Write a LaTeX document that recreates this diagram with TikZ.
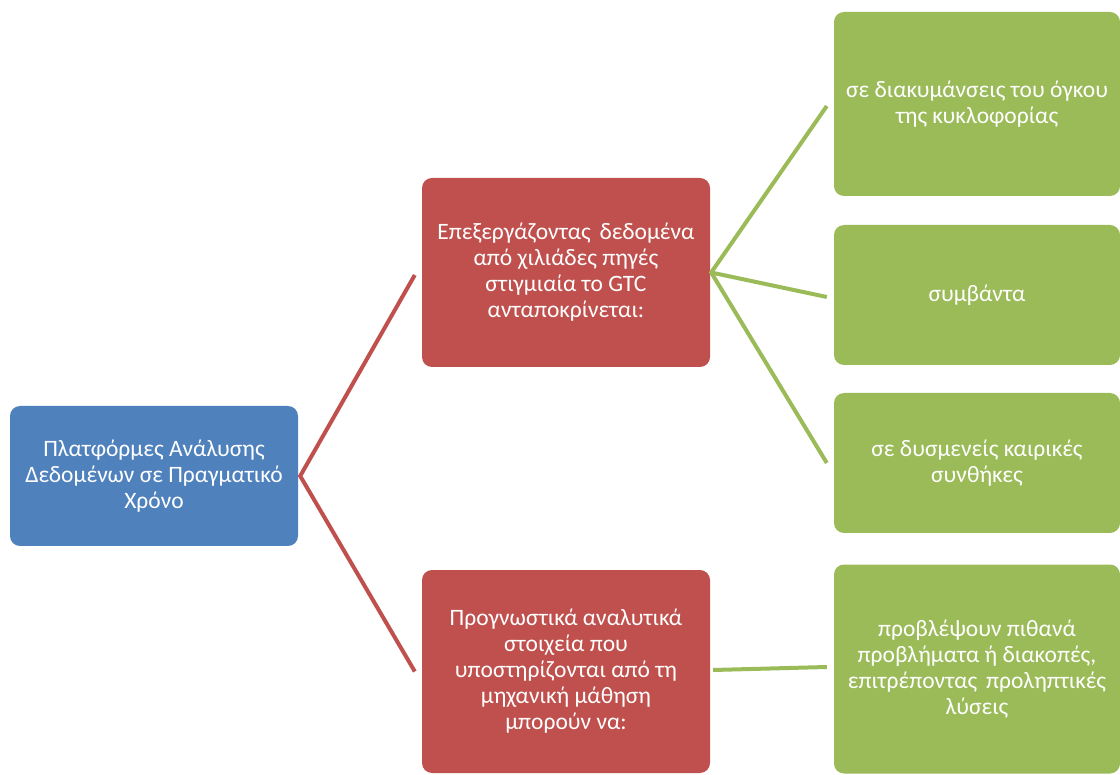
\documentclass[tikz,border=0pt]{standalone}
\usepackage{fontspec}
\setmainfont{Carlito}
\definecolor{cblue}{HTML}{4F81BD}
\definecolor{cred}{HTML}{C0504D}
\definecolor{cgreen}{HTML}{9BBB59}
\begin{document}
\begin{tikzpicture}[x=1pt,y=-1pt,
  box/.style={rectangle, rounded corners=10pt, text=white, align=center,
    font=\fontsize{23.5}{26}\selectfont, inner sep=0pt},
  bluebox/.style={box, fill=cblue},
  redbox/.style={box, fill=cred},
  greenbox/.style={box, fill=cgreen},
  redline/.style={draw=cred, line width=4pt},
  greenline/.style={draw=cgreen, line width=4pt}]
\useasboundingbox (0,0) rectangle (1120,775);
\node[bluebox, minimum width=288pt, minimum height=140pt] (root) at (154,476)
  {Πλατφόρμες Ανάλυσης\\Δεδομένων σε Πραγματικό\\Χρόνο};
\node[redbox, minimum width=288pt, minimum height=189pt] (r1) at (566,272.5)
  {Επεξεργάζοντας\hspace{0.15em} δεδομένα\\από χιλιάδες πηγές\\στιγμιαία το GTC\\ανταποκρίνεται:};
\node[redbox, minimum width=288pt, minimum height=203pt] (r2) at (566,671.5)
  {Προγνωστικά αναλυτικά\\στοιχεία που\\υποστηρίζονται από τη\\μηχανική μάθηση\\μπορούν να:};
\node[greenbox, minimum width=286pt, minimum height=184pt] (g1) at (977,104)
  {σε διακυμάνσεις του όγκου\\της κυκλοφορίας};
\node[greenbox, minimum width=286pt, minimum height=140pt] (g2) at (977,295)
  {συμβάντα};
\node[greenbox, minimum width=286pt, minimum height=140pt] (g3) at (977,463)
  {σε δυσμενείς καιρικές\\συνθήκες};
\node[greenbox, minimum width=286pt, minimum height=209pt] (g4) at (977,669)
  {προβλέψουν πιθανά\\προβλήματα ή διακοπές,\\επιτρέποντας\hspace{0.15em} προληπτικές\\λύσεις};
\coordinate (rs) at ([xshift=2pt]root.east);
\coordinate (r1e) at ([xshift=-7pt,yshift=-2.5pt]r1.west);
\coordinate (r2e) at ([xshift=-7pt,yshift=0pt]r2.west);
\coordinate (g1e) at ([xshift=-7pt,yshift=-2pt]g1.west);
\coordinate (g2e) at ([xshift=-7pt,yshift=-2pt]g2.west);
\coordinate (g3e) at ([xshift=-7pt]g3.west);
\coordinate (g4e) at ([xshift=-7pt,yshift=2pt]g4.west);
\coordinate (r1s) at ([xshift=1pt]r1.east);
\coordinate (r2s) at ([xshift=3pt,yshift=1.5pt]r2.east);
\draw[redline] (r1e) -- (rs) -- (r2e);
\draw[greenline] (g1e) -- (r1s) -- (g3e);
\draw[greenline] (r1s) -- (g2e);
\draw[greenline] (r2s) -- (g4e);
\end{tikzpicture}
\end{document}
